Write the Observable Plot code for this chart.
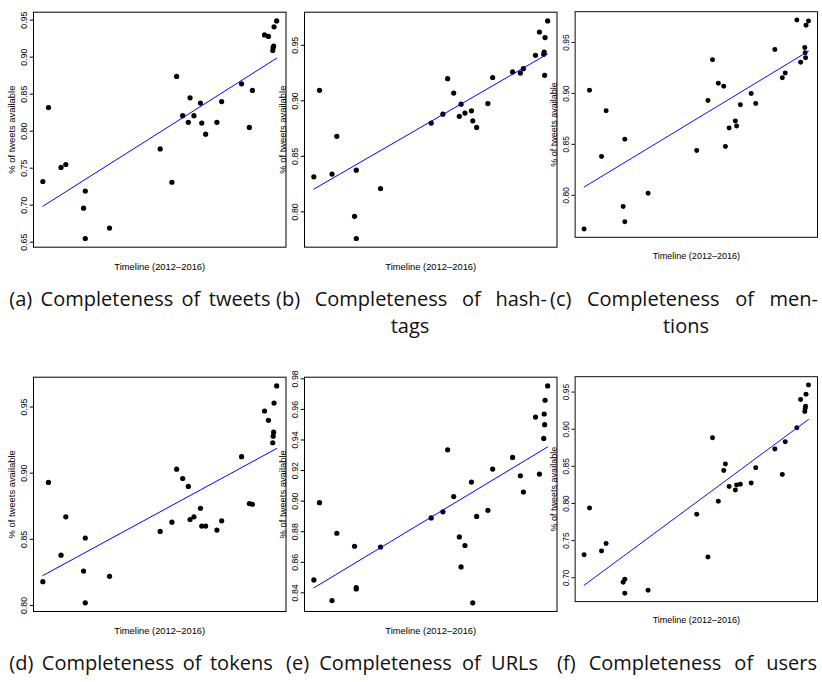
<!DOCTYPE html>
<html><head><meta charset="utf-8">
<script src="https://cdn.jsdelivr.net/npm/d3@7"></script>
<script src="https://cdn.jsdelivr.net/npm/@observablehq/plot@0.6"></script>
<style>
body{margin:0;background:#fff;width:822px;height:682px;overflow:hidden;position:relative}
.panel{position:absolute}
</style></head><body>
<script>
// Shared timeline (months since start of 2012, estimated)
const timeline = [0, 1.3, 4.2, 5.3, 9.4, 9.8, 9.8, 15.4, 27.1, 29.8, 30.9, 32.3, 33.6, 34.0, 34.9, 36.4, 36.7, 37.6, 40.2, 41.3, 45.9, 47.7, 48.4, 51.2, 52.1, 53.1, 53.2, 53.3, 53.4, 54.0];

const tweets   = [0.732, 0.832, 0.751, 0.755, 0.696, 0.719, 0.655, 0.669, 0.776, 0.731, 0.874, 0.821, 0.812, 0.845, 0.821, 0.838, 0.811, 0.796, 0.812, 0.840, 0.864, 0.805, 0.855, 0.930, 0.928, 0.909, 0.913, 0.915, 0.941, 0.949];
const hashtags = [0.8315, 0.9095, 0.834, 0.868, 0.796, 0.8375, 0.776, 0.821, 0.880, 0.888, 0.920, 0.907, 0.886, 0.897, 0.889, 0.891, 0.882, 0.876, 0.8975, 0.921, 0.926, 0.925, 0.929, 0.941, 0.962, 0.942, 0.944, 0.923, 0.957, 0.972];
const mentions = [0.767, 0.903, 0.838, 0.883, 0.789, 0.855, 0.774, 0.802, 0.844, 0.893, 0.933, 0.910, 0.907, 0.848, 0.866, 0.873, 0.868, 0.889, 0.900, 0.890, 0.943, 0.9155, 0.920, 0.972, 0.9305, 0.945, 0.940, 0.935, 0.967, 0.971];
const tokens   = [0.818, 0.893, 0.838, 0.867, 0.826, 0.851, 0.802, 0.822, 0.856, 0.863, 0.903, 0.896, 0.890, 0.865, 0.867, 0.8735, 0.860, 0.860, 0.857, 0.864, 0.9125, 0.877, 0.8765, 0.947, 0.940, 0.923, 0.928, 0.931, 0.953, 0.966];
const urls     = [0.8485, 0.899, 0.835, 0.879, 0.8705, 0.8435, 0.8426, 0.870, 0.889, 0.893, 0.9336, 0.903, 0.8766, 0.857, 0.871, 0.9125, 0.8335, 0.890, 0.894, 0.921, 0.9286, 0.9166, 0.906, 0.955, 0.9177, 0.941, 0.957, 0.950, 0.966, 0.9754];
const users    = [0.731, 0.794, 0.736, 0.746, 0.694, 0.698, 0.679, 0.683, 0.7855, 0.728, 0.8886, 0.803, 0.8443, 0.853, 0.823, 0.818, 0.825, 0.826, 0.8276, 0.848, 0.8735, 0.839, 0.883, 0.902, 0.940, 0.924, 0.928, 0.931, 0.947, 0.9595];

const ticksTweets   = [0.65, 0.70, 0.75, 0.80, 0.85, 0.90, 0.95];
const ticksHashtags = [0.80, 0.85, 0.90, 0.95];
const ticksMentions = [0.80, 0.85, 0.90, 0.95];
const ticksTokens   = [0.80, 0.85, 0.90, 0.95];
const ticksUrls     = [0.84, 0.86, 0.88, 0.90, 0.92, 0.94, 0.96, 0.98];
const ticksUsers    = [0.70, 0.75, 0.80, 0.85, 0.90, 0.95];

const yLabel = "% of tweets available";
const xLabel = "Timeline (2012–2016)";

const captionTexts = [
  "(a) Completeness of tweets",
  "(b) Completeness of hash-",
  "(c) Completeness of men-",
  "tags",
  "tions",
  "(d) Completeness of tokens",
  "(e) Completeness of URLs",
  "(f) Completeness of users"
];

// ---- layout (positions/styles) ----
const series = [tweets, hashtags, mentions, tokens, urls, users];
const tickSets = [ticksTweets, ticksHashtags, ticksMentions, ticksTokens, ticksUrls, ticksUsers];
const frameLefts = [33.3, 304.3, 575.7];
const frameTops = [11.7, 376.7];
const frameHeights = [235, 234.3];
const frameW = 252.5;
const ML = 34, MT = 11.7, MB = 32, W = 292;

function pad(ext) { const r = ext[1] - ext[0]; return [ext[0] - 0.04 * r, ext[1] + 0.04 * r]; }
const xDomain = pad(d3.extent(timeline));
const fmt = d3.format(".2f");

series.forEach((vals, i) => {
  const col = i % 3, row = Math.floor(i / 3);
  const rows = timeline.map((t, j) => ({t, v: vals[j]}));
  const h = frameHeights[row];
  const chart = Plot.plot({
    width: W, height: MT + h + MB,
    marginLeft: ML, marginRight: W - ML - frameW, marginTop: MT, marginBottom: MB,
    style: {background: "transparent", overflow: "visible", fontFamily: "'Liberation Sans', Arial, Helvetica, sans-serif", fontSize: "8.8px", color: "#000"},
    x: {domain: xDomain, axis: null},
    y: {domain: pad(d3.extent(vals)), axis: null},
    marks: [
      Plot.frame({stroke: "#000", strokeWidth: 1}),
      Plot.axisY({ticks: tickSets[i], tickSize: 3.3, tickPadding: 3.3, tickRotate: -90, tickFormat: fmt, fontSize: 8.8, label: null, stroke: "#000", fill: "#000"}),
      Plot.dot(rows, {x: "t", y: "v", r: 2.6, fill: "#000"}),
      Plot.linearRegressionY(rows, {x: "t", y: "v", stroke: "#0000ff", strokeWidth: 1, ci: 0}),
      Plot.text([yLabel], {text: d => d, frameAnchor: "left", dx: -18.7, rotate: -90, textAnchor: "middle", lineAnchor: "bottom", fontSize: 9.4, fill: "#000"}),
      Plot.text([xLabel], {text: d => d, frameAnchor: "bottom", dy: 22.6, lineAnchor: "bottom", fontSize: 9.4, fill: "#000"})
    ]
  });
  const div = document.createElement("div");
  div.className = "panel";
  div.style.left = (frameLefts[col] - ML) + "px";
  div.style.top = (frameTops[row] - MT) + "px";
  div.appendChild(chart);
  document.body.appendChild(div);
});

// ---- captions ----
const capLayout = [
  [9.3, 270.5, 305.5, "justify"],
  [276, 547, 305.5, "justify"],
  [550, 818, 305.5, "justify"],
  [410, 410, 333, "center"],
  [686, 686, 333, "center"],
  [9.3, 272.7, 670, "justify"],
  [286, 538, 670, "justify"],
  [557, 817, 670, "justify"]
];
const stretch = 1.0;
const cap = d3.select("body").append("svg")
  .attr("width", 822).attr("height", 682)
  .style("position", "absolute").style("left", 0).style("top", 0)
  .style("font-family", "'Open Sans', 'Noto Sans', sans-serif").style("font-size", "20px").style("fill", "#111");
function word(w, y) {
  const n = cap.append("text").attr("y", y).text(w);
  const len = n.node().getComputedTextLength() * stretch;
  n.attr("textLength", len).attr("lengthAdjust", "spacingAndGlyphs");
  return [n, len];
}
captionTexts.forEach((txt, i) => {
  const [x0, x1, y, mode] = capLayout[i];
  if (mode === "center") {
    const [n, len] = word(txt, y);
    n.attr("x", x0 - len / 2);
  } else {
    const parts = txt.split(" ").map(w => word(w, y));
    const gap = (x1 - x0 - d3.sum(parts, p => p[1])) / (parts.length - 1);
    let x = x0;
    parts.forEach(([n, len]) => { n.attr("x", x); x += len + gap; });
  }
});
</script>
</body></html>
